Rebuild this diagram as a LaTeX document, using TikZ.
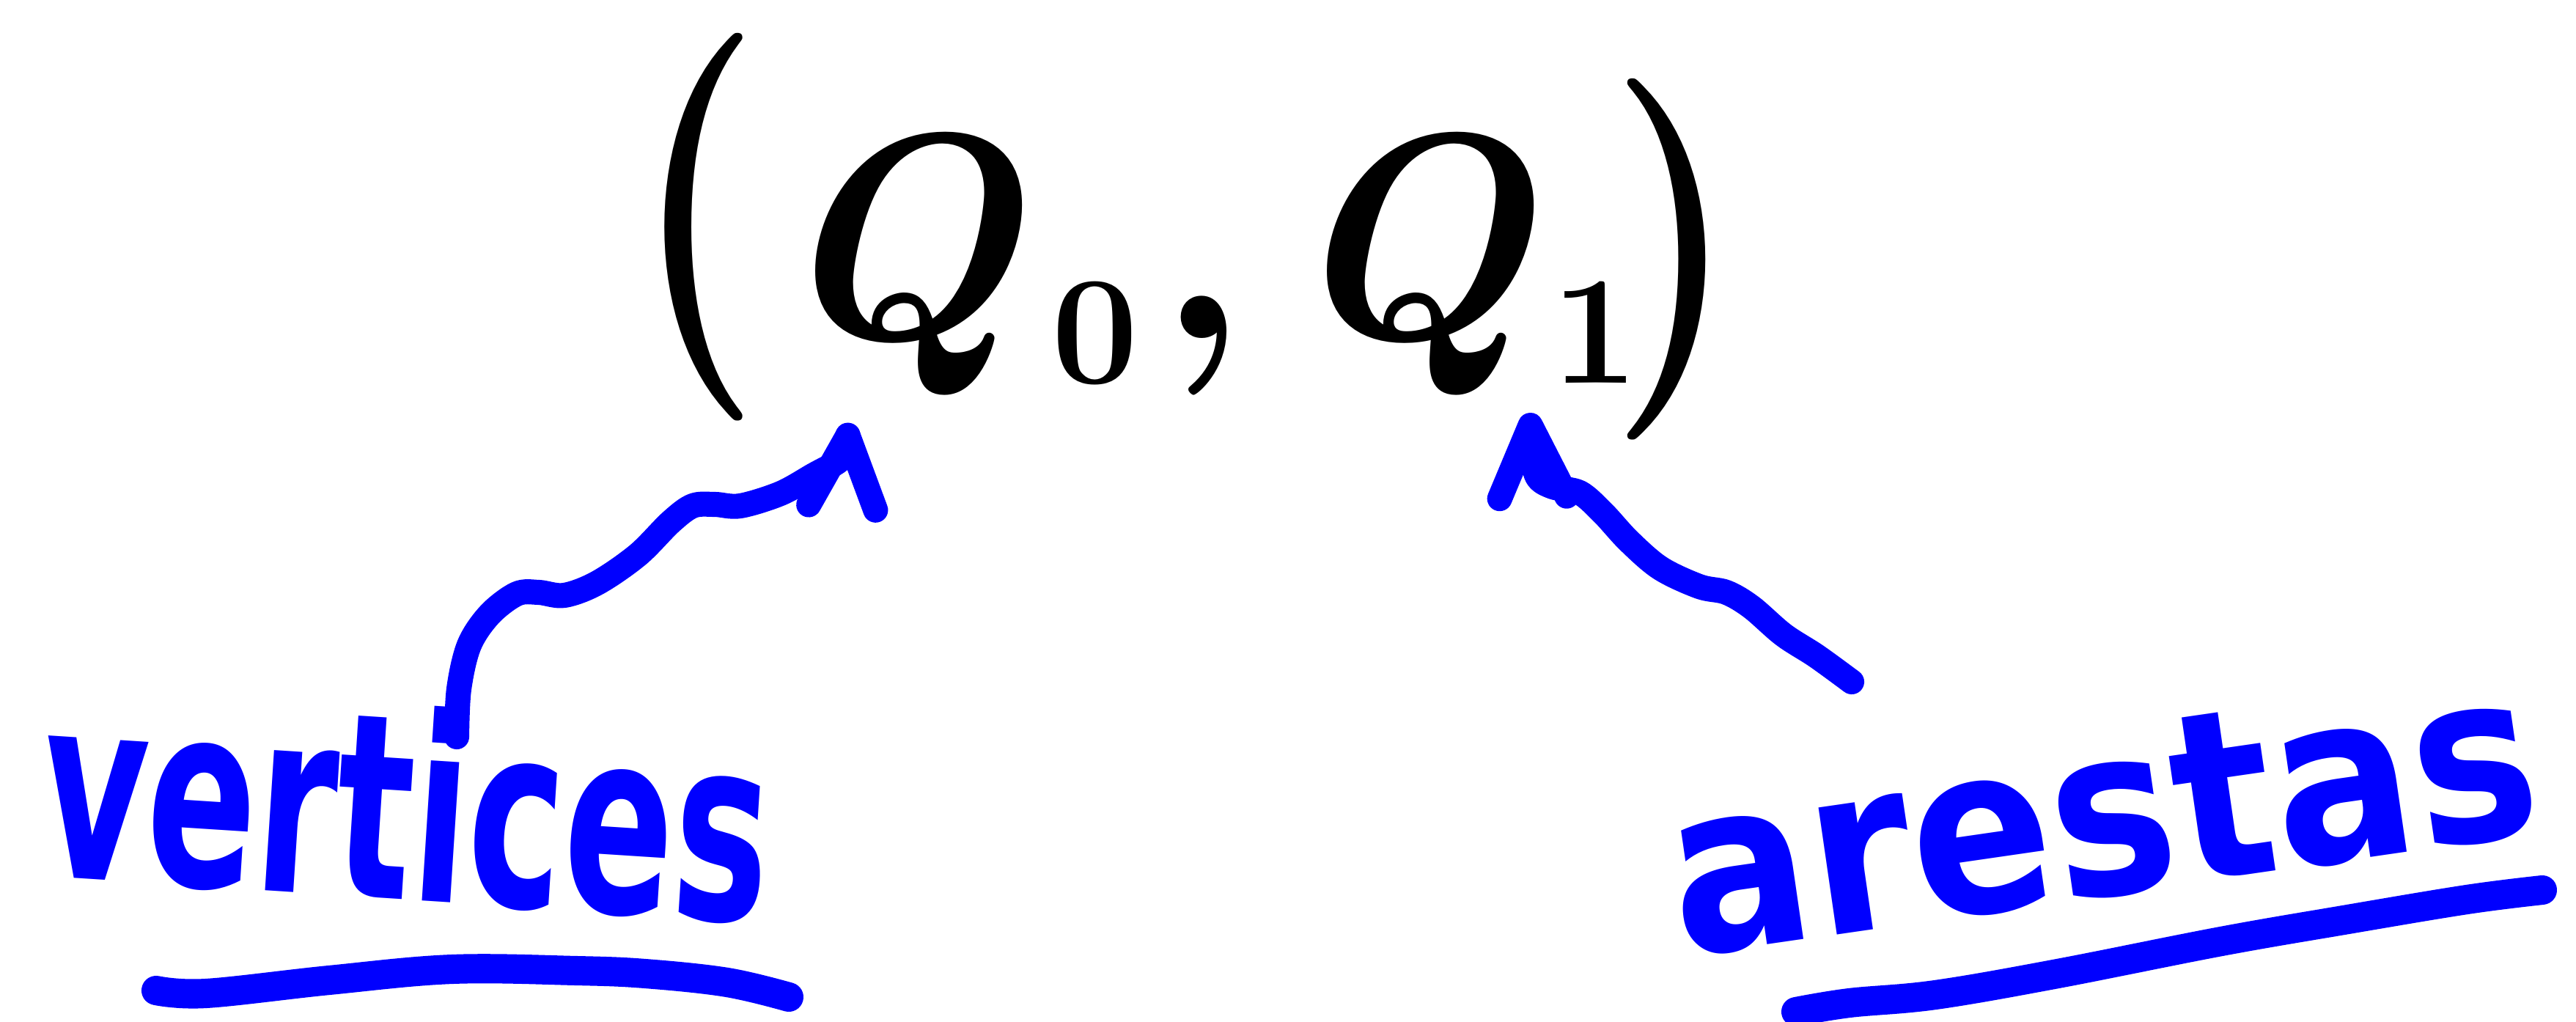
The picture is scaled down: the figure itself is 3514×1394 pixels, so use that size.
\documentclass[tikz,border=0pt]{standalone}
\usepackage{fontspec}
\newfontfamily\handfont{DejaVu Sans}
\usetikzlibrary{arrows.meta}
\definecolor{inkblue}{RGB}{0,0,255}
\newcommand{\subdigit}[1]{\raisebox{-0.15em}{\fontsize{60pt}{70pt}\selectfont #1}}
\begin{document}
\begin{tikzpicture}[x=0.01cm,y=-0.01cm,
  bluearrow/.style={line width=9.7pt, line cap=round, line join=round, draw=inkblue,
    -{Straight Barb[length=28pt,width=26pt,round]}},
  underline/.style={line width=11.4pt, line cap=round, line join=round, draw=inkblue},
  word/.style={text=inkblue, inner sep=0pt, anchor=base},
  pairtext/.style={font=\fontsize{113.8pt}{130pt}\selectfont\bfseries, inner sep=0pt, anchor=base}]
\fill[white] (0,0) rectangle (3514,1394);
\useasboundingbox (0,0) rectangle (3514,1394);

% black pair
\node[pairtext] (pair) at (1617,462) {\raisebox{0.05em}{\scalebox{1}[1.32]{(}}\hspace{0.025em}\textit{Q}\hspace{0.1em}\subdigit{0}\hspace{0.06em},\hspace{0.11em}\textit{Q}\hspace{0.06em}\subdigit{1}\hspace{-0.1em}\raisebox{-0.035em}{\scalebox{1}[1.23]{)}}};

% blue words
\node[word, rotate=-3.7, font=\fontsize{99.6pt}{110pt}\selectfont\handfont\bfseries] (vert) at (547,1227) {\scalebox{0.63}[1]{vertices}};
\node[word, rotate=8.25, font=\fontsize{91pt}{100pt}\selectfont\handfont\bfseries] (ares) at (2883,1220) {\scalebox{0.89}[1]{arestas}};

% arrows
\coordinate (a1s) at (623,1005);
\coordinate (a1e) at (1158,577);
\draw[bluearrow] plot[smooth, tension=0.55] coordinates {(a1s) (626,940) (640,880) (668,838) (705,810) (735,808) (770,812) (815,795) (870,757) (915,712) (945,690) (975,688) (1010,690) (1065,673) (1110,648) (1145,628) (1154,610) (a1e)};

\coordinate (a2s) at (2526,930);
\coordinate (a2e) at (2087,563);
\draw[bluearrow] plot[smooth, tension=0.55] coordinates {(a2s) (2478,895) (2433,866) (2389,828) (2355,808) (2318,800) (2265,775) (2222,738) (2187,700) (2155,672) (2118,664) (2097,650) (2090,615) (a2e)};

% underlines
\draw[underline] plot[smooth, tension=0.6] coordinates {(213,1351) (281,1355) (449,1337) (617,1322) (786,1324) (880,1328) (992,1340) (1076,1360)};
\draw[underline] plot[smooth, tension=0.6] coordinates {(2450,1380) (2523,1368) (2640,1357) (2807,1328) (3030,1284) (3197,1255) (3365,1227) (3468,1214)};
\end{tikzpicture}
\end{document}
